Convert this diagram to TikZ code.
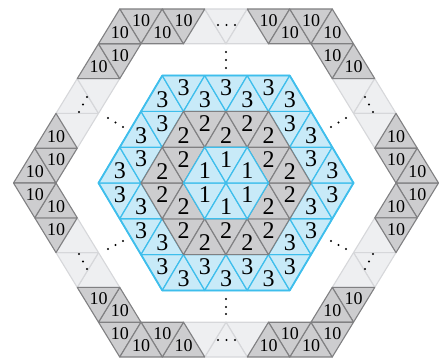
\documentclass[tikz,border=0pt]{standalone}
\usepackage{fontspec}
\setmainfont{Liberation Serif}
\definecolor{bfill}{RGB}{200,234,248}
\definecolor{bline}{RGB}{62,190,236}
\definecolor{gfill}{RGB}{205,205,207}
\definecolor{gline}{RGB}{128,128,130}
\definecolor{lfill}{RGB}{238,239,241}
\definecolor{lline}{RGB}{214,215,218}
\tikzset{
  bluetri/.style={fill=bfill, draw=bline, line width=1.2pt, line join=round},
  graytri/.style={fill=gfill, draw=gline, line width=1.1pt, line join=round},
  lighttri/.style={fill=lfill, draw=lline, line width=1.1pt, line join=round},
  darktri/.style={fill=gfill, draw=gline, line width=1.1pt, line join=round},
  numlab/.style={font=\fontsize{24}{24}\selectfont, inner sep=0pt},
  tenlab/.style={font=\fontsize{18}{18}\selectfont, inner sep=0pt},
  dotmark/.style={fill=black}
}
\begin{document}
\begin{tikzpicture}[x=1pt,y=-1pt]
\useasboundingbox (0,0) rectangle (446,358);

% ---------- outer ring (ring 10): light pieces first, then dark ----------
\begin{scope}[shift={(226pt,-183pt)}, x={(42.5pt,0pt)}, y={(21.25pt,34.8pt)}]
 \foreach \pass in {1,0}{
 \foreach \ma/\mb/\mc/\md in {1/0/0/1, 0/-1/1/1, -1/-1/1/0, -1/0/0/-1, 0/1/-1/-1, 1/1/-1/0}{
  \foreach \i in {0,...,8}{
   \pgfmathtruncatemacro\k{floor(\i/2)}
   \pgfmathtruncatemacro\odd{mod(\i,2)}
   \pgfmathtruncatemacro\lt{and(\i>2,\i<6)}
   \ifnum\odd=0
     \pgfmathsetmacro\Aa{-5+\k}\pgfmathsetmacro\Ba{5}
     \pgfmathsetmacro\Ab{-4+\k}\pgfmathsetmacro\Bb{5}
     \pgfmathsetmacro\Ac{-4+\k}\pgfmathsetmacro\Bc{4}
   \else
     \pgfmathsetmacro\Aa{-4+\k}\pgfmathsetmacro\Ba{4}
     \pgfmathsetmacro\Ab{-3+\k}\pgfmathsetmacro\Bb{4}
     \pgfmathsetmacro\Ac{-4+\k}\pgfmathsetmacro\Bc{5}
   \fi
   \pgfmathsetmacro\Am{(\Aa+\Ab+\Ac)/3}\pgfmathsetmacro\Bm{(\Ba+\Bb+\Bc)/3}
   \pgfmathsetmacro\xa{\ma*(\Aa)+\mb*(\Ba)}\pgfmathsetmacro\ya{\mc*(\Aa)+\md*(\Ba)}
   \pgfmathsetmacro\xb{\ma*(\Ab)+\mb*(\Bb)}\pgfmathsetmacro\yb{\mc*(\Ab)+\md*(\Bb)}
   \pgfmathsetmacro\xc{\ma*(\Ac)+\mb*(\Bc)}\pgfmathsetmacro\yc{\mc*(\Ac)+\md*(\Bc)}
   \pgfmathsetmacro\xm{\ma*(\Am)+\mb*(\Bm)}\pgfmathsetmacro\ym{\mc*(\Am)+\md*(\Bm)}
   \ifnum\lt=\pass
     \ifnum\lt=1
       \draw[lighttri] (\xa,\ya) -- (\xb,\yb) -- (\xc,\yc) -- cycle;
     \else
       \draw[darktri] (\xa,\ya) -- (\xb,\yb) -- (\xc,\yc) -- cycle;
       \node[tenlab] at (\xm,\ym) {10};
     \fi
   \fi
  }}}
\end{scope}

% ---------- inner hexagon (rings 1, 2, 3) ----------
\begin{scope}[shift={(226pt,-183pt)}, x={(42.5pt,0pt)}, y={(21.25pt,35.8pt)}]
 \foreach \R/\sty in {3/bluetri,2/graytri,1/bluetri}{
  \foreach \a in {-6,...,5}{
   \foreach \b in {-3,...,2}{
     \pgfmathtruncatemacro\du{max(abs(\a),abs(\a+1),abs(\b),abs(\b+1),abs(\a+\b),abs(\a+\b+1))}
     \pgfmathtruncatemacro\dd{max(abs(\a),abs(\a+1),abs(\b),abs(\b+1),abs(\a+\b+1),abs(\a+\b+2))}
     \ifnum\du=\R \draw[\sty] (\a,\b) -- (\a+1,\b) -- (\a,\b+1) -- cycle; \fi
     \ifnum\dd=\R \draw[\sty] (\a+1,\b) -- (\a+1,\b+1) -- (\a,\b+1) -- cycle; \fi
   }}}
 \draw[bline, line width=1.8pt, line join=round] (3,0) -- (0,3) -- (-3,3) -- (-3,0) -- (0,-3) -- (3,-3) -- cycle;
 \foreach \a in {-6,...,5}{
   \foreach \b in {-3,...,2}{
     \pgfmathtruncatemacro\du{max(abs(\a),abs(\a+1),abs(\b),abs(\b+1),abs(\a+\b),abs(\a+\b+1))}
     \pgfmathtruncatemacro\dd{max(abs(\a),abs(\a+1),abs(\b),abs(\b+1),abs(\a+\b+1),abs(\a+\b+2))}
     \ifnum\du<4 \node[numlab] at (\a+1/3,\b+1/3) {\du}; \fi
     \ifnum\dd<4 \node[numlab] at (\a+2/3,\b+2/3) {\dd}; \fi
   }}
\end{scope}

% ---------- dots ----------
\foreach \px/\py in {
  218/25, 226.5/25, 235/25,
  218/340, 226.5/340, 235/340,
  226/52, 226/60, 226/68,
  226/299, 226/307, 226/314,
  108/118, 115.5/122.5, 123/127,
  331/127, 338.5/122.5, 346/118,
  108/249, 115.5/245, 123/241,
  331/241, 338.5/245, 346/249,
  87/97, 83/104.5, 79/112,
  365/97, 369/104.5, 373/112,
  79/254, 83/261.5, 87/269,
  373/254, 369/261.5, 365/269}
  \fill[dotmark] (\px,\py) circle (1.1pt);
\end{tikzpicture}
\end{document}
